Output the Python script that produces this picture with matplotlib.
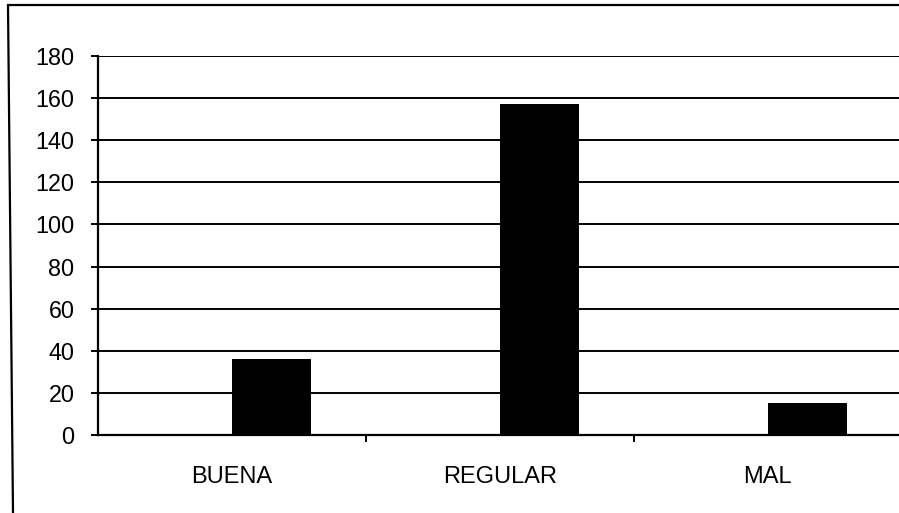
import matplotlib
matplotlib.use("Agg")
import matplotlib.pyplot as plt
from matplotlib.lines import Line2D

categories = ["BUENA", "REGULAR", "MAL"]
values = [36, 157, 15]
yticks = [0, 20, 40, 60, 80, 100, 120, 140, 160, 180]

W, H = 899, 513
fig = plt.figure(figsize=(W / 100, H / 100), dpi=100)
fig.patch.set_facecolor("white")

ax = fig.add_axes([98 / W, (H - 435) / H, (W - 98) / W, 379 / H])
xs = list(range(len(categories)))
ax.bar(xs, values, width=0.295, align="edge", color="black", zorder=3)

ax.set_xlim(-0.5, 2.49)
ax.set_ylim(0, 180)
ax.set_yticks(yticks)
ax.set_yticklabels([str(t) for t in yticks], fontsize=16.8, family="Liberation Sans")
ax.yaxis.grid(True, color="black", linewidth=1.4, zorder=1)
ax.set_axisbelow(True)

# category labels at centers, ticks at boundaries
ax.set_xticks(xs)
ax.set_xticklabels(categories, fontsize=17, family="Liberation Sans")
ax.tick_params(axis="x", which="major", length=0, pad=22)
ax.set_xticks([0.5, 1.5], minor=True)
ax.tick_params(axis="x", which="minor", length=5, width=1.4, direction="out", color="black")
ax.tick_params(axis="y", length=5, width=1.4, direction="out", pad=12, color="black")

for s in ["top", "right"]:
    ax.spines[s].set_visible(False)
for s in ["left", "bottom"]:
    ax.spines[s].set_linewidth(1.6)
    ax.spines[s].set_color("black")

# outer chart frame (partially cropped in the scan)
fig.add_artist(Line2D([10 / W, 1.0], [1 - 5 / H, 1 - 5 / H], transform=fig.transFigure,
                      color="black", linewidth=1.6))
fig.add_artist(Line2D([8 / W, 13 / W], [1 - 5 / H, 0.0], transform=fig.transFigure,
                      color="black", linewidth=1.6))

fig.savefig("out.png", dpi=100, facecolor="white")
